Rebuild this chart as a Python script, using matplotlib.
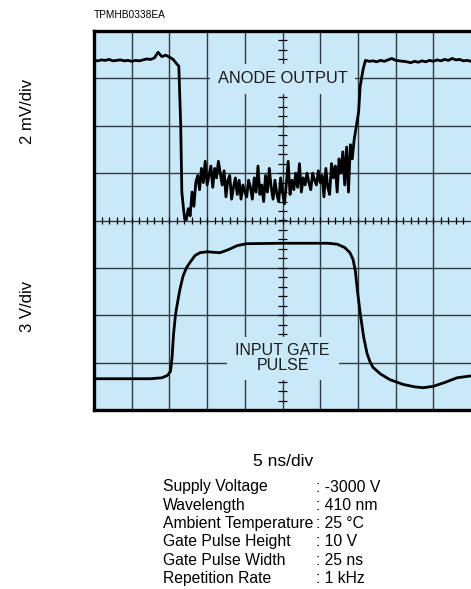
import numpy as np
import matplotlib
matplotlib.use("Agg")
import matplotlib.pyplot as plt
from matplotlib.patches import Rectangle

plt.rcParams['font.family'] = ['Liberation Sans', 'DejaVu Sans']

# anode output (divisions)
anode_left_t = np.arange(0.0, 2.21, 0.1)
anode_left_v = [3.38, 3.37, 3.39, 3.38, 3.40, 3.37, 3.38, 3.39, 3.37, 3.38, 3.36, 3.38,
                3.37, 3.39, 3.41, 3.40, 3.43, 3.55, 3.46, 3.49, 3.45, 3.40, 3.30]
anode_fall_t = [2.25, 2.30, 2.33, 2.38, 2.41]
anode_fall_v = [3.26, 2.0, 0.60, 0.20, 0.02]
anode_noise_t = np.arange(2.45, 6.96, 0.05)
anode_noise_v = [0.02, 0.25, 0.10, 0.60, 0.30, 0.80, 0.95, 0.65, 1.10, 0.80,
                 1.25, 0.75, 0.95, 1.15, 0.70, 1.10, 0.90, 1.25, 1.00, 0.75,
                 1.05, 0.50, 0.85, 0.95, 0.45, 0.70, 0.90, 0.55, 0.85, 0.45,
                 0.75, 0.60, 0.50, 0.85, 0.70, 0.45, 0.90, 0.60, 1.15, 0.55,
                 0.75, 0.40, 0.95, 0.60, 1.10, 0.70, 0.45, 0.85, 0.55, 0.40,
                 0.90, 0.60, 0.35, 0.75, 1.25, 0.55, 0.85, 0.65, 1.00, 0.70,
                 1.20, 0.60, 0.90, 0.75, 1.00, 0.80, 0.65, 1.00, 0.85, 0.75,
                 1.05, 0.80, 0.95, 0.50, 1.10, 0.70, 0.55, 1.20, 0.90, 1.15,
                 0.60, 1.30, 1.00, 1.45, 0.75, 1.55, 0.60, 1.60, 1.30, 1.70,
                 1.95]
anode_rise_t = [7.02, 7.06, 7.14, 7.20]
anode_rise_v = [2.30, 2.83, 3.20, 3.38]
anode_right_t = np.arange(7.3, 10.01, 0.1)
anode_right_v = [3.36, 3.37, 3.35, 3.38, 3.36, 3.39, 3.42, 3.38, 3.37, 3.36, 3.35, 3.33,
                 3.36, 3.34, 3.37, 3.35, 3.38, 3.36, 3.39, 3.37, 3.40, 3.38, 3.42, 3.39,
                 3.40, 3.37, 3.38, 3.36]

# input gate pulse (divisions)
gate_t = [0.0, 1.5, 1.8, 1.95, 2.03, 2.07, 2.11, 2.16, 2.20, 2.28, 2.36, 2.45, 2.55,
          2.68, 2.81, 3.0, 3.34, 3.55, 3.8, 4.05, 5.0, 6.2, 6.45, 6.65, 6.79, 6.87,
          6.93, 6.99, 7.06, 7.15, 7.24, 7.32, 7.4, 7.6, 7.85, 8.2, 8.5, 8.73, 9.0,
          9.3, 9.63, 10.0]
gate_v = [-3.34, -3.34, -3.32, -3.27, -3.18, -2.9, -2.4, -2.0, -1.8, -1.45, -1.18,
          -1.0, -0.88, -0.74, -0.68, -0.66, -0.68, -0.62, -0.53, -0.49, -0.48, -0.48,
          -0.50, -0.57, -0.68, -0.82, -1.05, -1.5, -1.95, -2.45, -2.8, -2.98, -3.1,
          -3.24, -3.36, -3.46, -3.51, -3.53, -3.50, -3.42, -3.32, -3.28]

spec_labels = ["Supply Voltage", "Wavelength", "Ambient Temperature", "Gate Pulse Height",
               "Gate Pulse Width", "Repetition Rate"]
spec_values = [": -3000 V", ": 410 nm", ": 25 \u00b0C", ": 10 V", ": 25 ns", ": 1 kHz"]

W, H = 471, 589
fig = plt.figure(figsize=(W / 100, H / 100), dpi=100)
ax = fig.add_axes([94 / W, 1 - 410 / H, 377 / W, 379 / H])
ax.set_xlim(0, 10)
ax.set_ylim(-4, 4)
ax.set_facecolor('#c9e9f9')
ax.set_xticks([])
ax.set_yticks([])
for s in ['left', 'top', 'bottom']:
    ax.spines[s].set_linewidth(2.4)
ax.spines['right'].set_visible(False)

gc = '#2e3a40'
for x in range(1, 10):
    ax.axvline(x, color=gc, lw=1.0, zorder=1)
for y in range(-3, 4):
    ax.axhline(y, color=gc, lw=1.0, zorder=1)
# minor ticks on the centre axes
ax.vlines(np.arange(0.2, 10, 0.2), -0.07, 0.07, color='black', lw=0.9, zorder=1)
ax.hlines(np.arange(-3.8, 4, 0.2), 4.88, 5.12, color='black', lw=0.9, zorder=1)

# label boxes hiding the graticule
ax.add_patch(Rectangle((3.08, 2.66), 3.84, 0.64, facecolor='#c9e9f9', edgecolor='none', zorder=2))
ax.add_patch(Rectangle((3.53, -3.36), 2.97, 0.91, facecolor='#c9e9f9', edgecolor='none', zorder=2))
ax.text(5.0, 3.0, "ANODE OUTPUT", ha='center', va='center', fontsize=11.8, color='#1a1a1a', zorder=3)
ax.text(5.0, -2.9, "INPUT GATE\nPULSE", ha='center', va='center', fontsize=11.5, color='#1a1a1a',
        linespacing=1.05, zorder=3)

at = np.concatenate([anode_left_t, anode_fall_t, anode_noise_t, anode_rise_t, anode_right_t])
av = np.concatenate([anode_left_v, anode_fall_v, anode_noise_v, anode_rise_v, anode_right_v])
ax.plot(at, av, color='black', lw=2.0, zorder=4)
ax.plot(gate_t, gate_v, color='black', lw=2.0, zorder=4)

fig.text(94 / W, 1 - 15 / H, "TPMHB0338EA", fontsize=7.3, ha='left', va='center')
fig.text(27 / W, 1 - 111 / H, "2 mV/div", fontsize=12, rotation=90, ha='center', va='center')
fig.text(27 / W, 1 - 306 / H, "3 V/div", fontsize=12, rotation=90, ha='center', va='center')
fig.text(283 / W, 1 - 461 / H, "5 ns/div", fontsize=12.5, ha='center', va='center')

for i, (lab, val) in enumerate(zip(spec_labels, spec_values)):
    yy = 1 - (487 + i * 18.3) / H
    fig.text(163 / W, yy, lab, fontsize=11.3, ha='left', va='center')
    fig.text(316 / W, yy, val, fontsize=11.3, ha='left', va='center')

fig.savefig("out.png", dpi=100)
